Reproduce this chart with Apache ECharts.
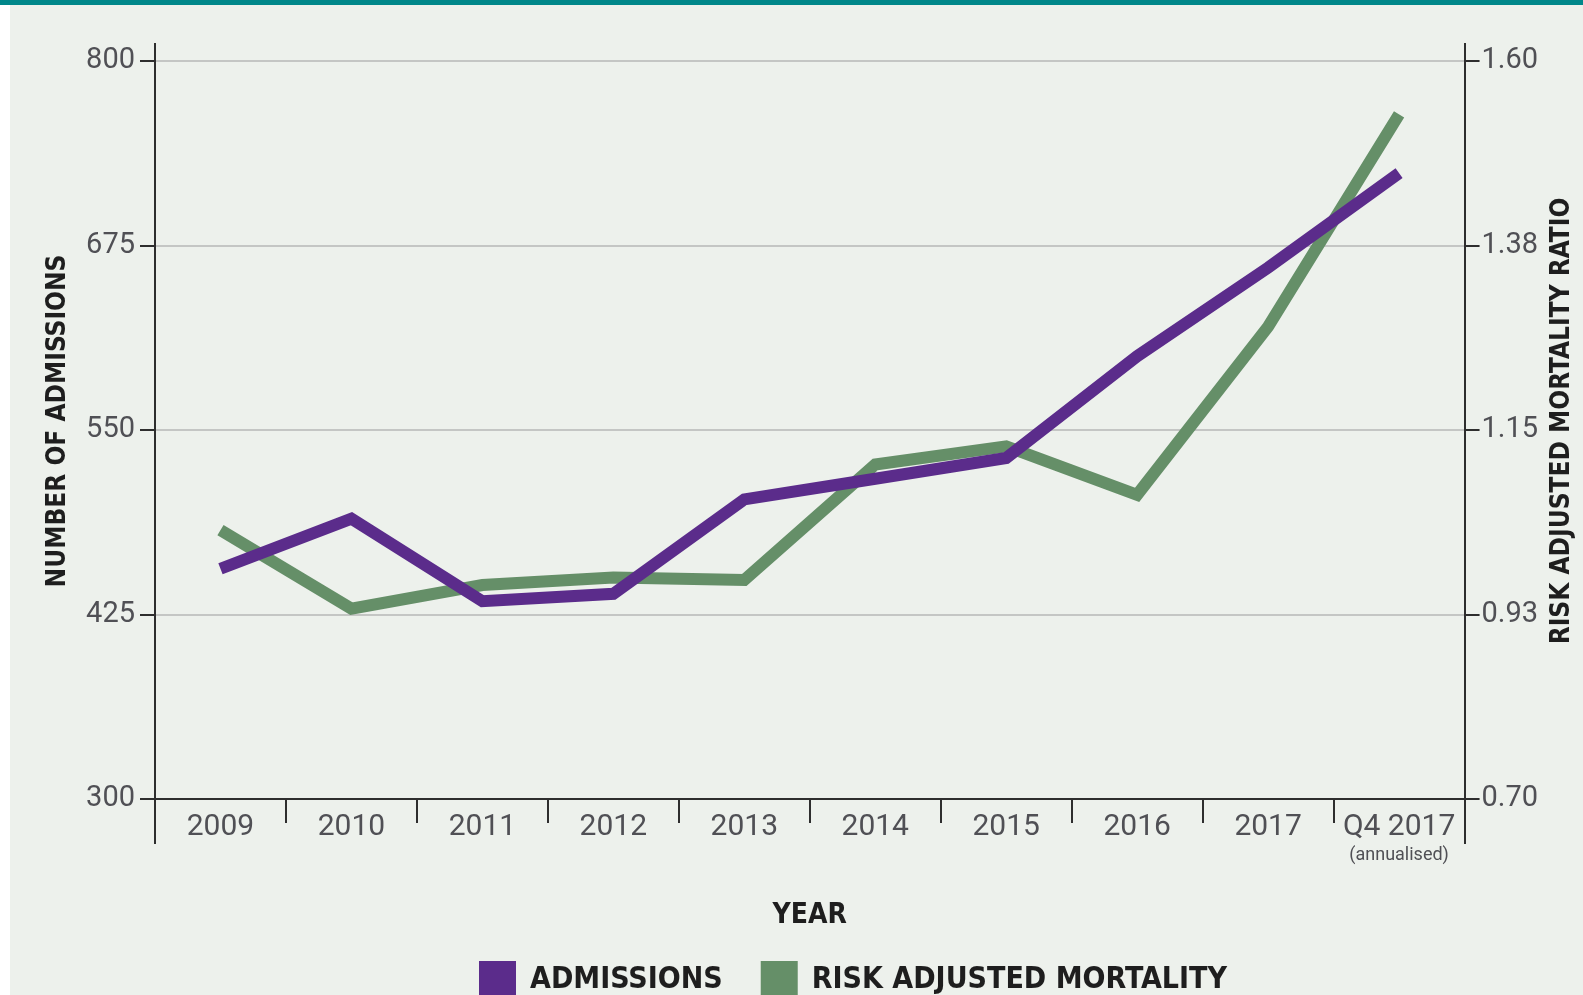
<!DOCTYPE html>
<html><head><meta charset="utf-8">
<script src="https://cdn.jsdelivr.net/npm/echarts@6/dist/echarts.min.js"></script>
<style>html,body{margin:0;padding:0;background:#fff}#c{width:1583px;height:995px}</style>
</head><body><div id="c"></div>
<script>
// ---- data ----
const categories = ['2009','2010','2011','2012','2013','2014','2015','2016','2017','Q4 2017'];
const admissions = [456, 490, 434, 439, 503, 517, 531, 600, 660, 724];
const mortality  = [1.028, 0.932, 0.961, 0.970, 0.967, 1.108, 1.130, 1.071, 1.276, 1.535];
const leftTicks = [300, 425, 550, 675, 800];
const rightTicks = [0.70, 0.925, 1.15, 1.375, 1.60];
const rightTickLabels = ['0.70','0.93','1.15','1.38','1.60'];
const seriesNames = ['ADMISSIONS', 'RISK ADJUSTED MORTALITY'];

// ---- style ----
const PURPLE = '#5B2C8B', GREEN = '#658F68';
const AXIS = '#2e2e2e', GRIDC = '#c4c6c4', LABEL = '#505055';
const numFont = 'Roboto, "Open Sans", sans-serif';
const condFont = '"Liberation Sans Narrow", "DejaVu Sans Condensed", Roboto, sans-serif';
const G = {left: 155, top: 61, right: 118, bottom: 196};
const W = 1583, H = 995;

const chart = echarts.init(document.getElementById('c'), null, {renderer: 'canvas'});
const xl = G.left, xr = W - G.right, yt = G.top, yb = H - G.bottom;

const option = {
  backgroundColor: '#EDF1EC',
  animation: false,
  grid: {left: G.left, right: G.right, top: G.top, bottom: G.bottom, containLabel: false},
  graphic: [
    {type: 'rect', shape: {x: 0, y: 0, width: W, height: 5}, style: {fill: '#00878A'}, z: 100},
    {type: 'rect', shape: {x: 0, y: 5, width: 10, height: H}, style: {fill: '#ffffff'}, z: 100},
    {type: 'line', shape: {x1: xl, y1: 43, x2: xl, y2: yt}, style: {stroke: AXIS, lineWidth: 2}, z: 50},
    {type: 'line', shape: {x1: xl, y1: yb, x2: xl, y2: 844}, style: {stroke: AXIS, lineWidth: 2}, z: 50},
    {type: 'line', shape: {x1: xr, y1: 43, x2: xr, y2: yt}, style: {stroke: AXIS, lineWidth: 2}, z: 50},
    {type: 'line', shape: {x1: xr, y1: yb, x2: xr, y2: 844}, style: {stroke: AXIS, lineWidth: 2}, z: 50}
  ],
  legend: {
    left: 474, top: 956,
    icon: 'rect', itemWidth: 37, itemHeight: 38, itemGap: 38,
    itemStyle: {borderWidth: 0},
    textStyle: {fontFamily: condFont, fontWeight: 'bold', fontSize: 30, color: '#1e1e1e', padding: [0, 0, 8, 9]},
    data: seriesNames
  },
  xAxis: {
    type: 'category', data: categories, boundaryGap: true,
    name: 'YEAR', nameLocation: 'middle', nameGap: 103,
    nameTextStyle: {fontFamily: condFont, fontWeight: 'bold', fontSize: 28, color: '#1e1e1e'},
    axisLine: {show: true, lineStyle: {color: AXIS, width: 2}},
    axisTick: {show: true, interval: 0, length: 24, lineStyle: {color: AXIS, width: 2}},
    axisLabel: {
      interval: 0, margin: 13, color: LABEL, fontFamily: numFont, fontSize: 30,
      formatter: v => v === 'Q4 2017' ? '{a|Q4 2017}\n{b|(annualised)}' : '{a|' + v + '}',
      rich: {
        a: {fontFamily: numFont, fontSize: 30, color: LABEL, lineHeight: 30},
        b: {fontFamily: numFont, fontSize: 18, color: LABEL, lineHeight: 26}
      }
    },
    splitLine: {show: false}
  },
  yAxis: [
    {
      type: 'value', min: leftTicks[0], max: leftTicks[leftTicks.length - 1], position: 'left',
      name: 'NUMBER OF ADMISSIONS', nameLocation: 'middle', nameRotate: 90, nameGap: 84,
      nameTextStyle: {fontFamily: condFont, fontWeight: 'bold', fontSize: 26, color: '#1e1e1e', padding: [0, 0, 0, 18]},
      axisLine: {show: true, lineStyle: {color: AXIS, width: 2}},
      axisTick: {show: true, length: 15, customValues: leftTicks, lineStyle: {color: AXIS, width: 2}},
      axisLabel: {customValues: leftTicks, margin: 20, color: LABEL, fontFamily: numFont, fontSize: 29,
                  formatter: v => String(Math.round(v))},
      splitLine: {show: true, lineStyle: {color: GRIDC, width: 2}}
    },
    {
      type: 'value', min: rightTicks[0], max: rightTicks[rightTicks.length - 1], position: 'right',
      name: 'RISK ADJUSTED MORTALITY RATIO', nameLocation: 'middle', nameRotate: 90, nameGap: 84,
      nameTextStyle: {fontFamily: condFont, fontWeight: 'bold', fontSize: 26, color: '#1e1e1e', padding: [0, 0, 0, 18]},
      axisLine: {show: true, lineStyle: {color: AXIS, width: 2}},
      axisTick: {show: true, length: 15, customValues: rightTicks, lineStyle: {color: AXIS, width: 2}},
      axisLabel: {customValues: rightTicks, margin: 17, color: LABEL, fontFamily: numFont, fontSize: 29,
                  formatter: v => {
                    const i = rightTicks.findIndex(t => Math.abs(t - v) < 1e-6);
                    return i >= 0 ? rightTickLabels[i] : '';
                  }},
      splitLine: {show: false}
    }
  ],
  series: [
    {
      name: seriesNames[0], type: 'line', yAxisIndex: 0, data: admissions,
      symbol: 'none', z: 3,
      itemStyle: {color: PURPLE},
      lineStyle: {color: PURPLE, width: 12, cap: 'butt', join: 'miter'}
    },
    {
      name: seriesNames[1], type: 'line', yAxisIndex: 1, data: mortality,
      symbol: 'none', z: 2,
      itemStyle: {color: GREEN},
      lineStyle: {color: GREEN, width: 12, cap: 'butt', join: 'miter'}
    }
  ]
};
chart.setOption(option);
</script>
</body></html>
